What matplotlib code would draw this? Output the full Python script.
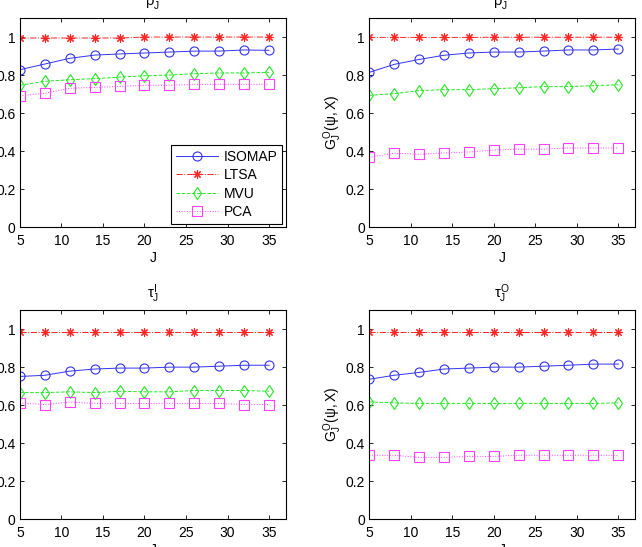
import matplotlib
matplotlib.use("Agg")
import matplotlib.pyplot as plt

plt.rcParams['font.family'] = ['Liberation Sans', 'DejaVu Sans']
plt.rcParams['mathtext.fontset'] = 'custom'
plt.rcParams['mathtext.rm'] = 'Liberation Sans'
plt.rcParams['mathtext.it'] = 'Liberation Sans'
plt.rcParams['mathtext.bf'] = 'Liberation Sans:bold'

J = [5, 8, 11, 14, 17, 20, 23, 26, 29, 32, 35]

# oben links: rho_J^I
rho_i_isomap = [0.828, 0.858, 0.888, 0.905, 0.911, 0.916, 0.921, 0.926, 0.926, 0.932, 0.930]
rho_i_ltsa = [0.995, 0.995, 0.995, 0.995, 0.995, 1.0, 1.0, 1.0, 1.0, 1.0, 1.0]
rho_i_mvu = [0.746, 0.767, 0.775, 0.781, 0.789, 0.796, 0.800, 0.807, 0.811, 0.811, 0.814]
rho_i_pca = [0.691, 0.704, 0.730, 0.735, 0.740, 0.746, 0.746, 0.751, 0.751, 0.751, 0.751]

# oben rechts: rho_J^O
rho_o_isomap = [0.814, 0.856, 0.882, 0.904, 0.916, 0.921, 0.921, 0.926, 0.932, 0.932, 0.937]
rho_o_ltsa = [0.998, 0.998, 0.998, 0.998, 0.998, 0.999, 0.999, 0.999, 0.999, 0.999, 0.999]
rho_o_mvu = [0.693, 0.702, 0.718, 0.723, 0.723, 0.728, 0.733, 0.739, 0.739, 0.744, 0.749]
rho_o_pca = [0.367, 0.388, 0.383, 0.390, 0.395, 0.405, 0.410, 0.410, 0.416, 0.416, 0.416]

# unten links: tau_J^I
tau_i_isomap = [0.751, 0.757, 0.779, 0.790, 0.795, 0.795, 0.800, 0.800, 0.805, 0.810, 0.810]
tau_i_ltsa = [0.983, 0.983, 0.983, 0.983, 0.983, 0.983, 0.983, 0.983, 0.983, 0.983, 0.983]
tau_i_mvu = [0.666, 0.666, 0.670, 0.666, 0.673, 0.670, 0.670, 0.677, 0.677, 0.677, 0.673]
tau_i_pca = [0.612, 0.603, 0.616, 0.609, 0.609, 0.609, 0.609, 0.609, 0.609, 0.603, 0.603]

# unten rechts: tau_J^O
tau_o_isomap = [0.736, 0.757, 0.772, 0.790, 0.795, 0.800, 0.800, 0.805, 0.810, 0.816, 0.816]
tau_o_ltsa = [0.983, 0.983, 0.983, 0.983, 0.983, 0.983, 0.983, 0.983, 0.983, 0.983, 0.983]
tau_o_mvu = [0.617, 0.612, 0.609, 0.609, 0.609, 0.609, 0.609, 0.609, 0.609, 0.609, 0.612]
tau_o_pca = [0.336, 0.336, 0.325, 0.325, 0.330, 0.330, 0.336, 0.336, 0.336, 0.336, 0.336]

methods = ['ISOMAP', 'LTSA', 'MVU', 'PCA']
styles = [
    dict(color=(0.2, 0.2, 0.95), marker='o', linestyle='-', mfc='none', ms=6.5),
    dict(color=(1.0, 0.15, 0.15), marker=(8, 2, 0), linestyle='-.', mfc='none', ms=6),
    dict(color=(0.15, 0.9, 0.15), marker='d', linestyle='--', mfc='none', ms=6.5),
    dict(color=(1.0, 0.25, 1.0), marker='s', linestyle=':', mfc='none', ms=6.5),
]

panels = [
    (r'$\rho_J^I$', None, [rho_i_isomap, rho_i_ltsa, rho_i_mvu, rho_i_pca]),
    (r'$\rho_J^O$', r'$G_J^O(\psi,X)$', [rho_o_isomap, rho_o_ltsa, rho_o_mvu, rho_o_pca]),
    (r'$\tau_J^I$', None, [tau_i_isomap, tau_i_ltsa, tau_i_mvu, tau_i_pca]),
    (r'$\tau_J^O$', r'$G_J^O(\psi,X)$', [tau_o_isomap, tau_o_ltsa, tau_o_mvu, tau_o_pca]),
]

fig = plt.figure(figsize=(6.42, 5.47), dpi=100)
positions = [
    [0.031, 0.585, 0.414, 0.382],
    [0.575, 0.585, 0.414, 0.382],
    [0.031, 0.051, 0.414, 0.382],
    [0.575, 0.051, 0.414, 0.382],
]

for k, (titel, ylab, serien) in enumerate(panels):
    ax = fig.add_axes(positions[k])
    for name, werte, st in zip(methods, serien, styles):
        ax.plot(J, werte, label=name, lw=0.7, mew=0.8, **st)
    ax.set_xlim(5, 37)
    ax.set_ylim(0, 1.1)
    ax.set_xticks([5, 10, 15, 20, 25, 30, 35])
    ax.set_yticks([0, 0.2, 0.4, 0.6, 0.8, 1])
    ax.set_yticklabels(['0', '0.2', '0.4', '0.6', '0.8', '1'])
    ax.tick_params(direction='in', top=True, right=True, length=3, width=0.6,
                   labelsize=10, pad=3)
    ax.tick_params(axis='x', pad=5)
    for sp in ax.spines.values():
        sp.set_linewidth(0.8)
    ax.set_title(titel, fontsize=10.5, pad=9)
    ax.set_xlabel('J', fontsize=10, labelpad=2)
    if ylab:
        ax.set_ylabel(ylab, fontsize=10, labelpad=1)
    if k == 0:
        # Legende nur im ersten Panel
        leg = ax.legend(loc='lower right', fontsize=10, fancybox=False,
                        edgecolor='black', framealpha=1, borderaxespad=0.25,
                        handlelength=3.0, handletextpad=0.4,
                        labelspacing=0.3, borderpad=0.35)
        leg.get_frame().set_linewidth(0.8)

fig.savefig('out.png', dpi=100)
